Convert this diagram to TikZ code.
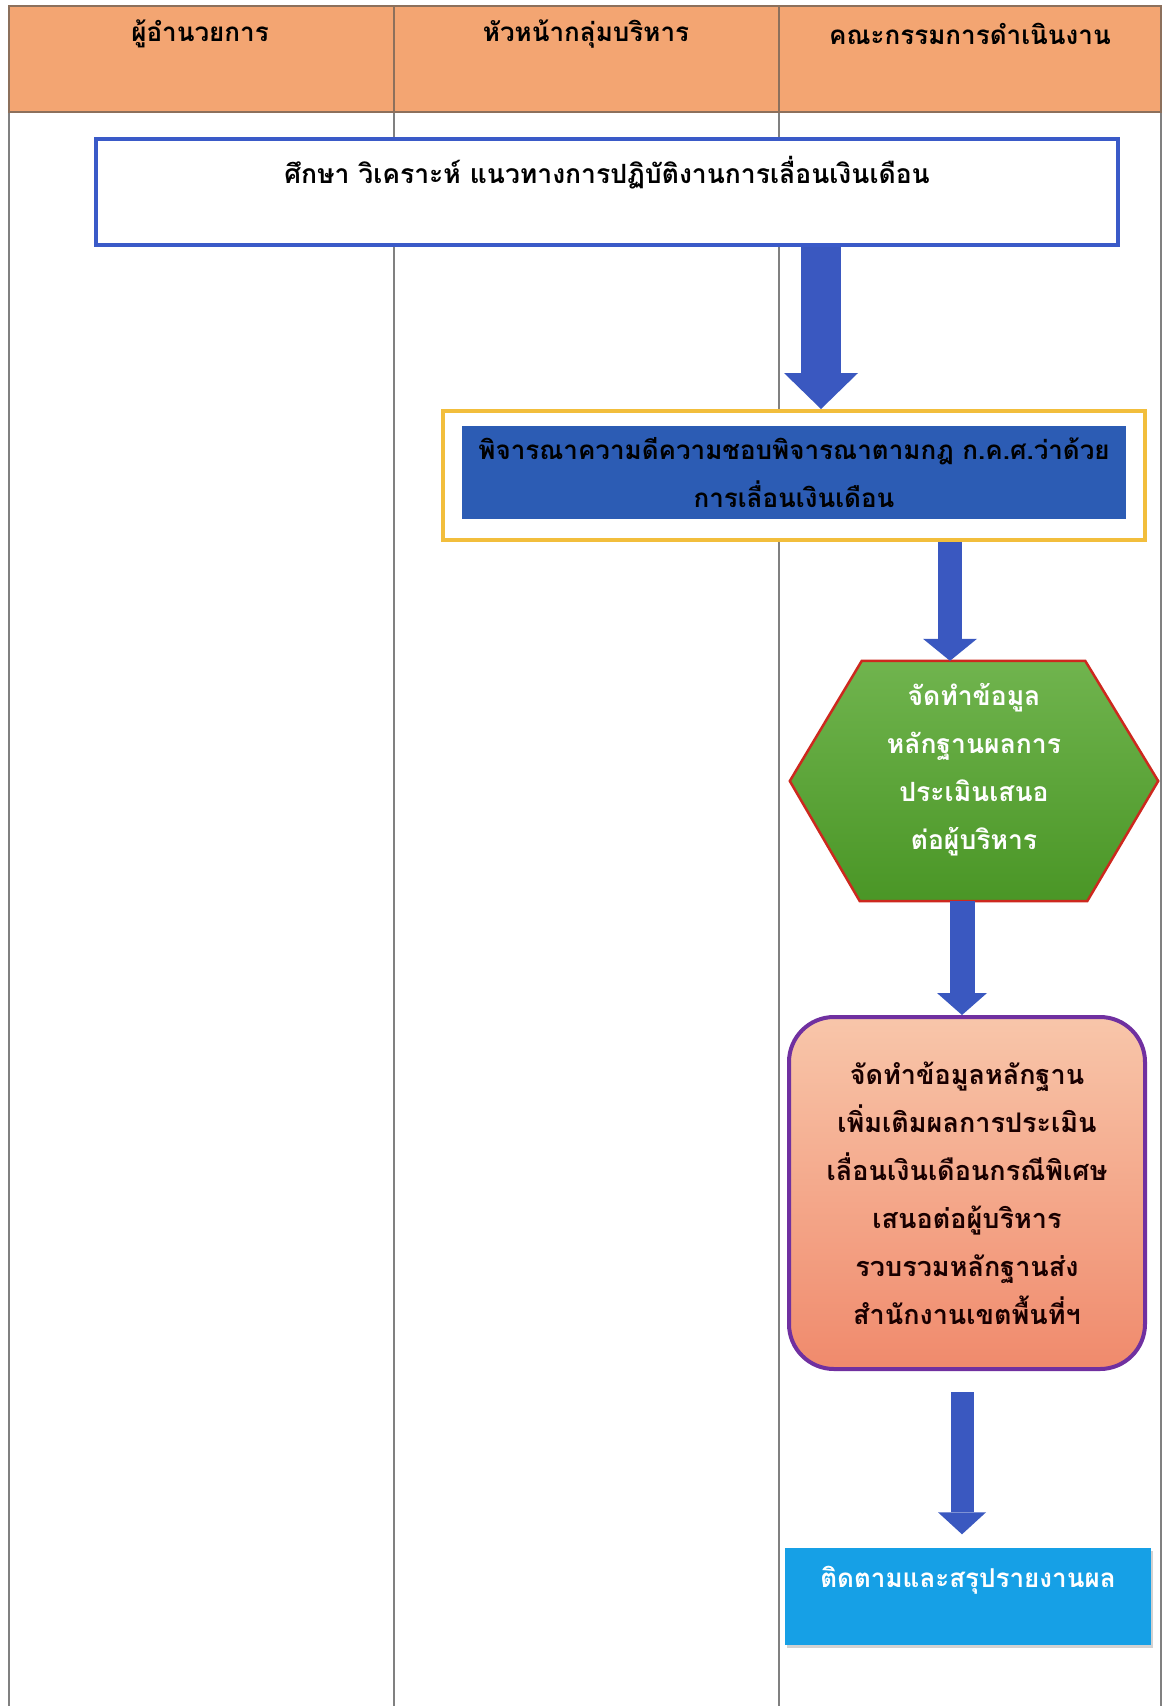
\documentclass[tikz,border=0pt]{standalone}
\usepackage{fontspec}
\newfontfamily\thaifont[Script=Thai]{Loma}
\usetikzlibrary{arrows.meta,backgrounds,calc,shadows}
\definecolor{hdr}{RGB}{243,165,114}
\definecolor{hdrline}{RGB}{140,112,92}
\definecolor{gridc}{RGB}{128,128,128}
\definecolor{bluebd}{RGB}{58,90,200}
\definecolor{arrowblue}{RGB}{58,88,192}
\definecolor{innerblue}{RGB}{44,92,180}
\definecolor{yellowbd}{RGB}{242,190,60}
\definecolor{hexred}{RGB}{205,40,30}
\definecolor{hextop}{RGB}{112,180,78}
\definecolor{hexbot}{RGB}{74,150,38}
\definecolor{purplebd}{RGB}{112,48,160}
\definecolor{peachtop}{RGB}{248,198,170}
\definecolor{peachbot}{RGB}{240,138,108}
\definecolor{skyblue}{RGB}{22,160,230}
\begin{document}
\begin{tikzpicture}[x=1pt,y=-1pt,
  thai/.style={font=\thaifont\bfseries\fontsize{#1}{48}\selectfont},
  hdrtext/.style={thai=26, text=black},
  flowarrow/.style n args={3}{draw=arrowblue, line width=#1,
     -{Triangle[width=#2,length=#3,line width=0pt]}}]
\useasboundingbox (0,0) rectangle (1163,1706);
\begin{scope}[on background layer]
  \fill[white] (0,0) rectangle (1163,1706);
\end{scope}
% table
\fill[hdr] (9,6) rectangle (1161,112);
\draw[gridc, line width=1.3] (9,112) -- (9,1706) (394,112) -- (394,1706) (779,112) -- (779,1706) (1161,112) -- (1161,1706);
\draw[hdrline, line width=1.6] (9,6) rectangle (1161,112) (394,6) -- (394,112) (779,6) -- (779,112);
\node[hdrtext] (h1) at (200,34) {ผู้อำนวยการ};
\node[hdrtext] (h2) at (586,34) {หัวหน้ากลุ่มบริหาร};
\node[hdrtext] (h3) at (970,34) {คณะกรรมการดำเนินงาน};
% box 1
\node[draw=bluebd, line width=4, fill=white, minimum width=1022, minimum height=106,
      inner sep=0, thai=26.5] (box1) at (607,192) {\raisebox{9pt}[0pt][0pt]{ศึกษา วิเคราะห์ แนวทางการปฏิบัติงานการเลื่อนเงินเดือน}};
% box 2
\node[draw=yellowbd, line width=4, fill=white, minimum width=702, minimum height=129, inner sep=0] (box2o) at (794,475.5) {};
\node[fill=innerblue, minimum width=664, minimum height=93, inner sep=0, align=center, thai=26, text=black] (box2) at (794,472.5)
  {พิจารณาความดีความชอบพิจารณาตามกฎ ก.ค.ศ.ว่าด้วย\\การเลื่อนเงินเดือน};
% hexagon
\node[minimum width=368, minimum height=240, inner sep=0, thai=26.5, text=white] (hex) at (974,781)
  {\raisebox{7pt}[0pt][0pt]{\begin{tabular}{@{}c@{}}จัดทำข้อมูล\\หลักฐานผลการ\\ประเมินเสนอ\\ต่อผู้บริหาร\end{tabular}}};
\begin{scope}[on background layer]
  \shadedraw[top color=hextop, bottom color=hexbot, draw=hexred, line width=2.5, line join=miter]
    (hex.west) -- ($(hex.north west)+(72,0)$) -- ($(hex.north east)+(-73,0)$) -- (hex.east)
    -- ($(hex.south east)+(-71,0)$) -- ($(hex.south west)+(70,0)$) -- cycle;
\end{scope}
% rounded box
\node[draw=purplebd, line width=4, rounded corners=45, top color=peachtop, bottom color=peachbot,
      minimum width=356, minimum height=352, inner sep=0, align=center, thai=27, text=black!90!red] (rbox) at (967,1193)
  {จัดทำข้อมูลหลักฐาน\\เพิ่มเติมผลการประเมิน\\เลื่อนเงินเดือนกรณีพิเศษ\\เสนอต่อผู้บริหาร\\รวบรวมหลักฐานส่ง\\สำนักงานเขตพื้นที่ฯ};
% final box
\node[fill=skyblue, drop shadow={opacity=0.35, shadow xshift=2pt, shadow yshift=-3pt}, minimum width=366, minimum height=97, inner sep=0,
      thai=26, text=white] (fbox) at (968,1596) {\raisebox{9pt}[0pt][0pt]{ติดตามและสรุปรายงานผล}};
% arrows
\coordinate (x1) at (821,0);
\coordinate (x2) at (950,0);
\coordinate (x3) at (962,0);
\draw[flowarrow={40}{74pt}{36pt}] (box1.south -| x1) -- (box2o.north -| x1);
\draw[flowarrow={24}{54pt}{22pt}] (box2o.south -| x2) -- (hex.north -| x2);
\draw[flowarrow={25}{50pt}{22pt}] (hex.south -| x3) -- (rbox.north -| x3);
\draw[flowarrow={23}{48pt}{22pt}, shorten <=21pt, shorten >=13pt] (rbox.south -| x3) -- (fbox.north -| x3);
\end{tikzpicture}
\end{document}
